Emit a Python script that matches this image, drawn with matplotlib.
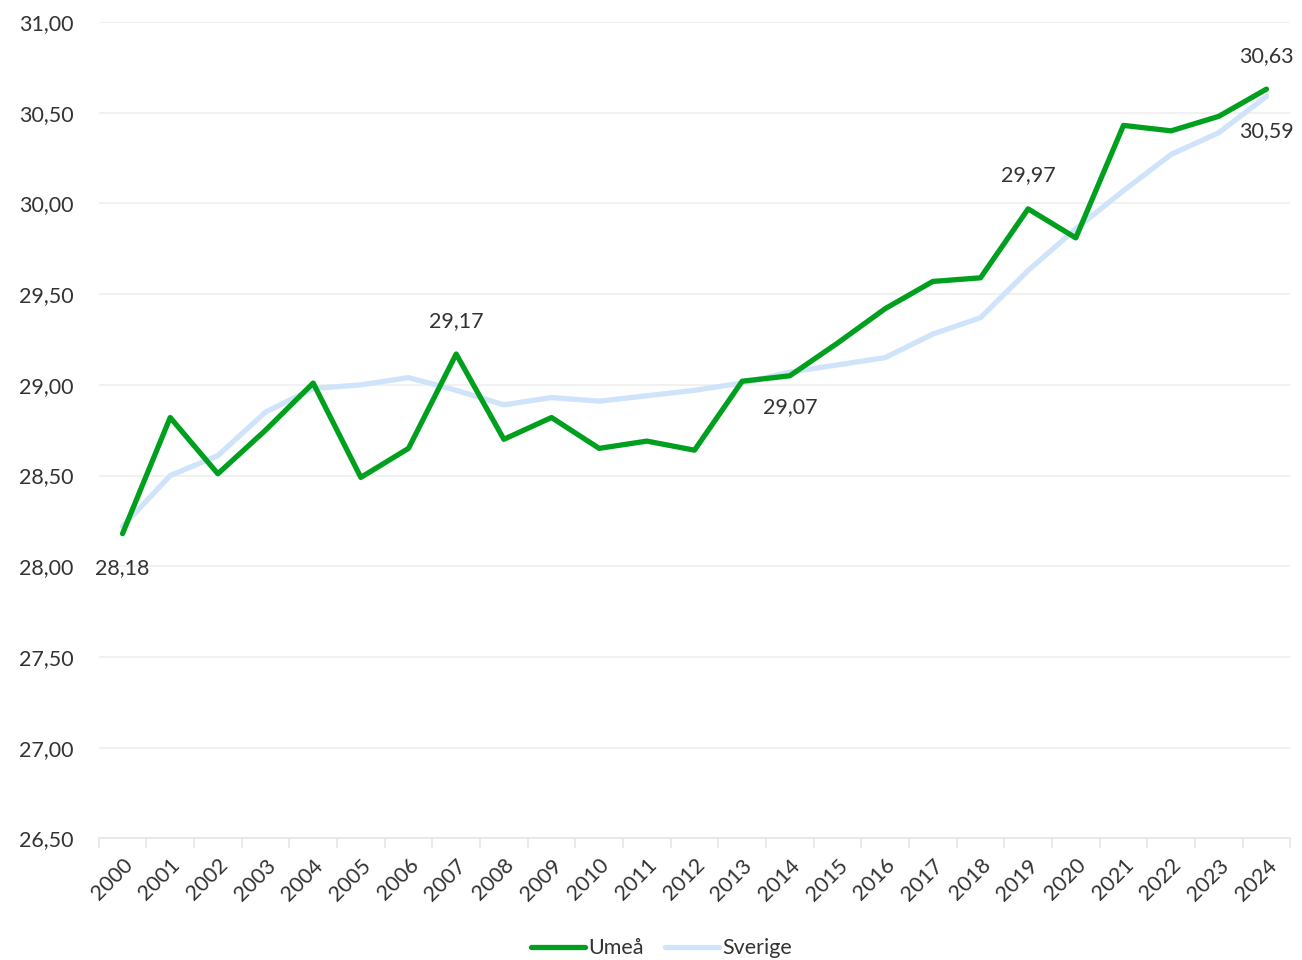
import matplotlib
matplotlib.use("Agg")
import matplotlib.pyplot as plt
from matplotlib.ticker import FuncFormatter, FixedLocator

years = [str(y) for y in range(2000, 2025)]
umea = [28.18, 28.82, 28.51, 28.75, 29.01, 28.49, 28.65, 29.17, 28.70, 28.82,
        28.65, 28.69, 28.64, 29.02, 29.05, 29.23, 29.42, 29.57, 29.59, 29.97,
        29.81, 30.43, 30.40, 30.48, 30.63]
sverige = [28.22, 28.50, 28.61, 28.85, 28.98, 29.00, 29.04, 28.97, 28.89, 28.93,
           28.91, 28.94, 28.97, 29.01, 29.07, 29.11, 29.15, 29.28, 29.37, 29.63,
           29.86, 30.07, 30.27, 30.39, 30.59]
# (year index, above?)
labels_umea = [(0, False), (7, True), (19, True), (24, True)]
labels_sverige = [(14, False), (24, False)]

plt.rcParams['font.family'] = ['Lato', 'DejaVu Sans']
FS = 15.5

fig = plt.figure(figsize=(13.02, 9.6), dpi=100)
ax = fig.add_axes([0.0758, 0.1266, 0.9152, 0.8505])

x = list(range(len(years)))
ax.plot(x, sverige, color='#cfe4fb', lw=3.8, solid_capstyle='round', label='Sverige', zorder=2)
ax.plot(x, umea, color='#00a01e', lw=3.8, solid_capstyle='round', label='Umeå', zorder=3)

def fmt(v):
    return f"{v:.2f}".replace('.', ',')

for i, above in labels_umea:
    ax.annotate(fmt(umea[i]), (x[i], umea[i]), xytext=(0, 24 if above else -25),
                textcoords='offset points', ha='center', va='center',
                fontsize=FS, color='#333333')
for i, above in labels_sverige:
    ax.annotate(fmt(sverige[i]), (x[i], sverige[i]), xytext=(0, 24 if above else -25),
                textcoords='offset points', ha='center', va='center',
                fontsize=FS, color='#333333')

ax.set_xlim(-0.5, len(years) - 0.5)
ax.set_ylim(26.5, 31.0)
ax.set_yticks([26.5 + 0.5 * k for k in range(10)])
ax.yaxis.set_major_formatter(FuncFormatter(lambda v, p: fmt(v)))
ax.set_xticks(x)
ax.set_xticklabels(years, rotation=45, ha='right', va='top', rotation_mode='anchor')
ax.xaxis.set_minor_locator(FixedLocator([i - 0.5 for i in range(len(years) + 1)]))
ax.tick_params(axis='x', which='major', length=0, pad=12, labelsize=FS, labelcolor='#333333')
ax.tick_params(axis='x', which='minor', length=7, color='#e6e6e6', width=1.2)
ax.tick_params(axis='y', length=0, pad=18, labelsize=FS, labelcolor='#333333')

ax.grid(axis='y', color='#efefef', lw=1.2)
ax.set_axisbelow(True)
for s in ['top', 'right', 'left']:
    ax.spines[s].set_visible(False)
ax.spines['bottom'].set_color('#e6e6e6')
ax.spines['bottom'].set_linewidth(1.2)

handles, lbls = ax.get_legend_handles_labels()
leg = fig.legend(handles[::-1], lbls[::-1], loc='center', bbox_to_anchor=(0.508, 0.012),
                 ncol=2, frameon=False, fontsize=FS, handlelength=2.5,
                 handletextpad=0.15, columnspacing=1.0)
for t in leg.get_texts():
    t.set_color('#333333')

fig.savefig('out.png', dpi=100)
